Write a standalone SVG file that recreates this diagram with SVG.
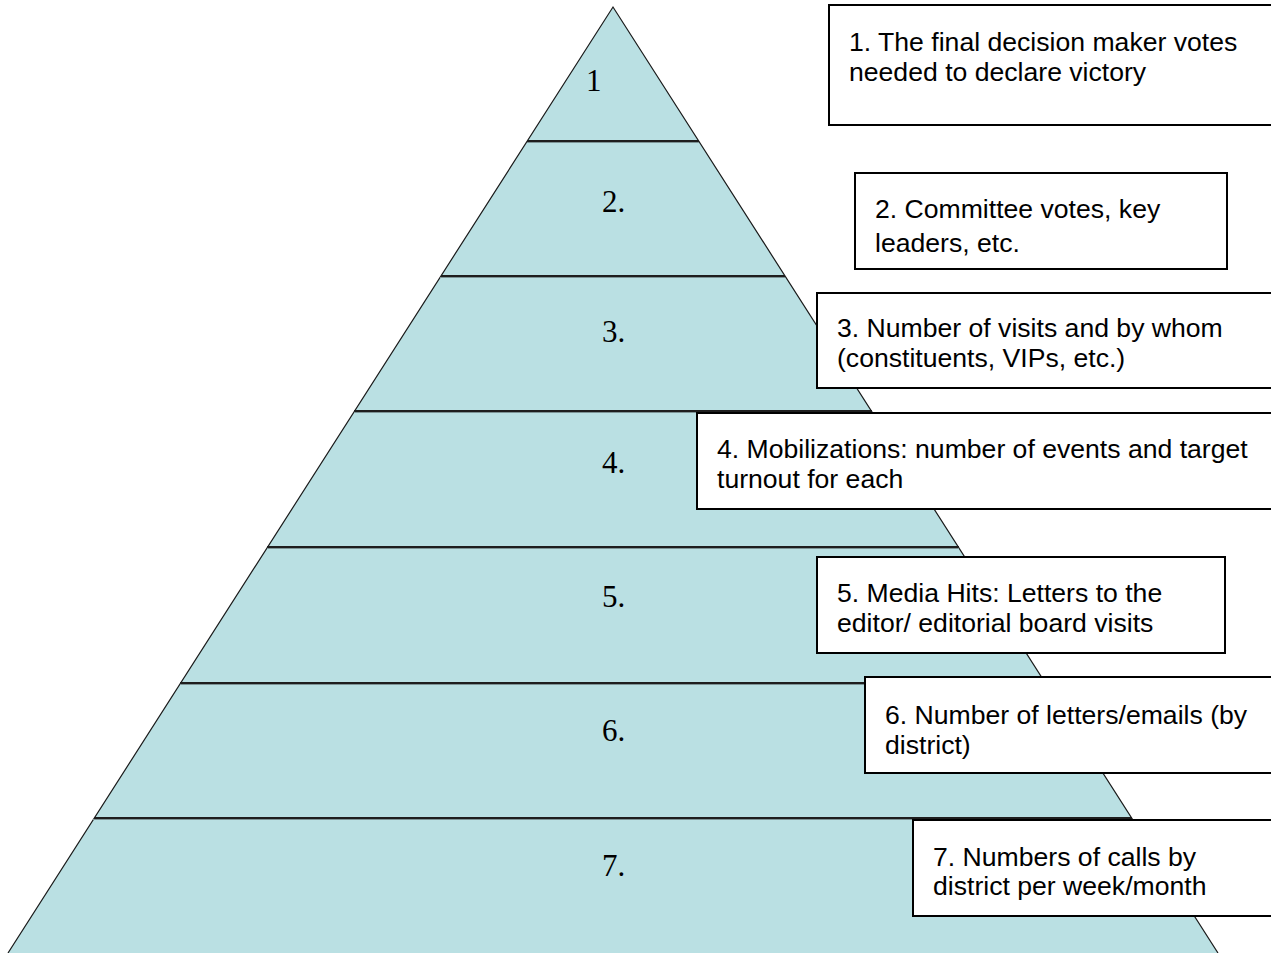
<svg xmlns="http://www.w3.org/2000/svg" width="1271" height="953" viewBox="0 0 1271 953">
<style>
.tier{fill:#bae0e3;stroke:none}
.edge{fill:none;stroke:#1a1a1a;stroke-width:1.2}
.div{stroke:#1e1e1e;stroke-width:2}
.shadow{stroke:#7d9496;stroke-width:1.2}
.num{font-family:"Liberation Serif","Times New Roman",serif;font-size:31px;fill:#000}
.box{fill:#fff;stroke:#000;stroke-width:2}
.lbl{font-family:"Liberation Sans",Arial,sans-serif;font-size:26.6px;fill:#000}
</style>
<rect width="1271" height="953" fill="#fff"/>
<g id="pyramid">
<polygon class="tier" points="613,7 8,953 1218,953"/>
<polyline class="edge" points="8,953 613,7 1218,953"/>
</g>
<g id="dividers">
<line class="shadow" x1="527" y1="142.5" x2="699" y2="142.5"/>
<line class="div" x1="527" y1="141" x2="699" y2="141"/>
<line class="shadow" x1="440" y1="277.5" x2="785" y2="277.5"/>
<line class="div" x1="441" y1="276" x2="785" y2="276"/>
<line class="shadow" x1="354" y1="412.5" x2="872" y2="412.5"/>
<line class="div" x1="354" y1="411" x2="872" y2="411"/>
<line class="shadow" x1="267" y1="548.5" x2="959" y2="548.5"/>
<line class="div" x1="267" y1="547" x2="959" y2="547"/>
<line class="shadow" x1="180" y1="684.5" x2="1046" y2="684.5"/>
<line class="div" x1="180" y1="683" x2="1046" y2="683"/>
<line class="shadow" x1="93" y1="819.5" x2="1132" y2="819.5"/>
<line class="div" x1="94" y1="818" x2="1132" y2="818"/>
</g>
<g id="tier-numbers">
<text class="num" x="586" y="91">1</text>
<text class="num" x="602" y="212">2.</text>
<text class="num" x="602" y="342">3.</text>
<text class="num" x="602" y="473">4.</text>
<text class="num" x="602" y="607">5.</text>
<text class="num" x="602" y="741">6.</text>
<text class="num" x="602" y="876">7.</text>
</g>
<g id="box1">
<rect class="box" x="829" y="5" width="460" height="120"/>
<text class="lbl" x="849" y="51">1. The final decision maker votes</text>
<text class="lbl" x="849" y="81">needed to declare victory</text>
</g>
<g id="box2">
<rect class="box" x="855" y="173" width="372" height="96"/>
<text class="lbl" x="875" y="218">2. Committee votes, key</text>
<text class="lbl" x="875" y="252">leaders, etc.</text>
</g>
<g id="box3">
<rect class="box" x="817" y="293" width="470" height="95"/>
<text class="lbl" x="837" y="337">3. Number of visits and by whom</text>
<text class="lbl" x="837" y="367">(constituents, VIPs, etc.)</text>
</g>
<g id="box4">
<rect class="box" x="697" y="413" width="590" height="96"/>
<text class="lbl" x="717" y="458">4. Mobilizations: number of events and target</text>
<text class="lbl" x="717" y="488">turnout for each</text>
</g>
<g id="box5">
<rect class="box" x="817" y="557" width="408" height="96"/>
<text class="lbl" x="837" y="602">5. Media Hits: Letters to the</text>
<text class="lbl" x="837" y="632">editor/ editorial board visits</text>
</g>
<g id="box6">
<rect class="box" x="865" y="677" width="420" height="96"/>
<text class="lbl" x="885" y="724">6. Number of letters/emails (by</text>
<text class="lbl" x="885" y="754">district)</text>
</g>
<g id="box7">
<rect class="box" x="913" y="820" width="370" height="96"/>
<text class="lbl" x="933" y="866">7. Numbers of calls by</text>
<text class="lbl" x="933" y="895">district per week/month</text>
</g>
</svg>
